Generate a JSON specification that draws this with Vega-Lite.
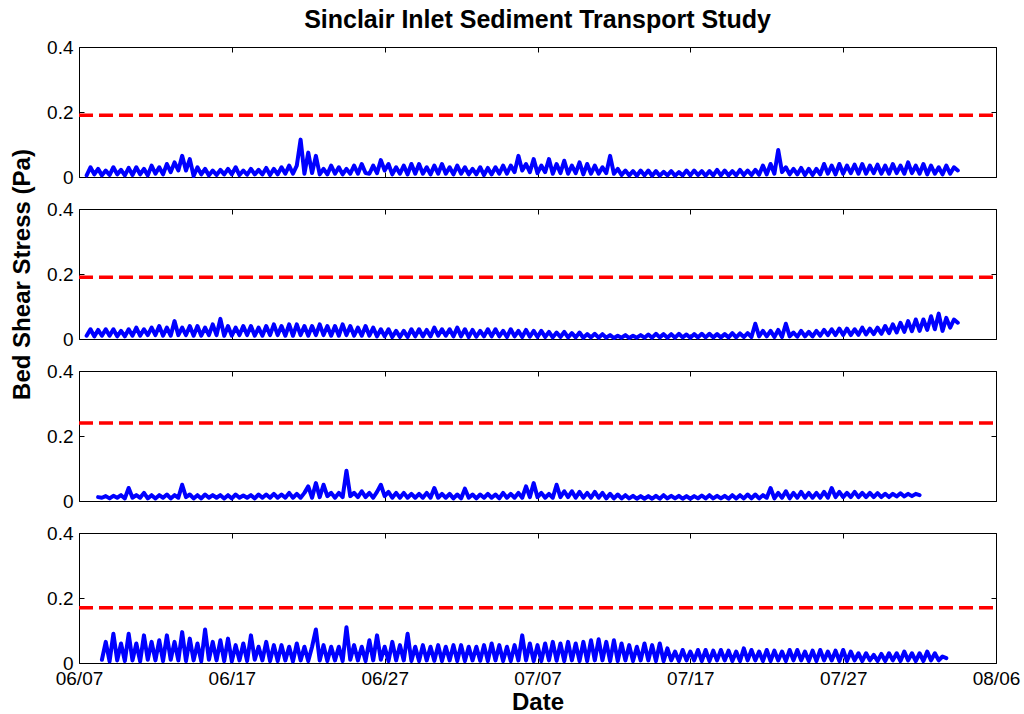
{
"$schema":"https://vega.github.io/schema/vega-lite/v6.json",
"autosize":{"type":"pad"},
"padding":{"left":9,"top":7,"right":5,"bottom":0},
"background":"#ffffff",
"title":{"text":"Sinclair Inlet Sediment Transport Study","fontSize":25,"fontWeight":"bold","font":"Liberation Sans","color":"#000000","anchor":"middle","frame":"group","offset":5},
"bounds":"flush",
"spacing":32,
"config":{
 "view":{"stroke":"#000000","strokeWidth":1},
 "axis":{"domain":false,"grid":false,"ticks":true,"tickColor":"#000000","tickSize":-5,"tickWidth":1,"labelColor":"#000000","labelFont":"Liberation Sans","labelFontSize":19,"labelPadding":11,"labelFlush":false,"titleFont":"Liberation Sans","titleFontSize":24,"titleFontWeight":"bold","titleColor":"#000000"}
},
"datasets":{"ts":[
{"t":"2007-06-07T12:00","a":0.005,"b":0.01},
{"t":"2007-06-07T18:00","a":0.03,"b":0.03},
{"t":"2007-06-08T00:00","a":0.008,"b":0.008},
{"t":"2007-06-08T06:00","a":0.025,"b":0.028,"c":0.012},
{"t":"2007-06-08T12:00","a":0.005,"b":0.01,"c":0.01,"d":0.01},
{"t":"2007-06-08T18:00","a":0.02,"b":0.03,"c":0.015,"d":0.065},
{"t":"2007-06-09T00:00","a":0.006,"b":0.01,"c":0.008,"d":0.005},
{"t":"2007-06-09T06:00","a":0.03,"b":0.03,"c":0.016,"d":0.09},
{"t":"2007-06-09T12:00","a":0.008,"b":0.008,"c":0.01,"d":0.008},
{"t":"2007-06-09T18:00","a":0.022,"b":0.025,"c":0.018,"d":0.06},
{"t":"2007-06-10T00:00","a":0.005,"b":0.008,"c":0.008,"d":0.006},
{"t":"2007-06-10T06:00","a":0.028,"b":0.03,"c":0.04,"d":0.09},
{"t":"2007-06-10T12:00","a":0.006,"b":0.01,"c":0.01,"d":0.008},
{"t":"2007-06-10T18:00","a":0.03,"b":0.035,"c":0.018,"d":0.06},
{"t":"2007-06-11T00:00","a":0.008,"b":0.01,"c":0.01,"d":0.005},
{"t":"2007-06-11T06:00","a":0.025,"b":0.03,"c":0.025,"d":0.085},
{"t":"2007-06-11T12:00","a":0.005,"b":0.012,"c":0.008,"d":0.01},
{"t":"2007-06-11T18:00","a":0.035,"b":0.035,"c":0.018,"d":0.065},
{"t":"2007-06-12T00:00","a":0.01,"b":0.012,"c":0.008,"d":0.008},
{"t":"2007-06-12T06:00","a":0.03,"b":0.04,"c":0.018,"d":0.07},
{"t":"2007-06-12T12:00","a":0.008,"b":0.01,"c":0.01,"d":0.006},
{"t":"2007-06-12T18:00","a":0.04,"b":0.035,"c":0.02,"d":0.085},
{"t":"2007-06-13T00:00","a":0.015,"b":0.01,"c":0.008,"d":0.01},
{"t":"2007-06-13T06:00","a":0.045,"b":0.055,"c":0.018,"d":0.065},
{"t":"2007-06-13T12:00","a":0.02,"b":0.012,"c":0.01,"d":0.008},
{"t":"2007-06-13T18:00","a":0.065,"b":0.035,"c":0.05,"d":0.095},
{"t":"2007-06-14T00:00","a":0.02,"b":0.012,"c":0.012,"d":0.006},
{"t":"2007-06-14T06:00","a":0.055,"b":0.04,"c":0.02,"d":0.075},
{"t":"2007-06-14T12:00","a":0.003,"b":0.01,"c":0.008,"d":0.008},
{"t":"2007-06-14T18:00","a":0.03,"b":0.04,"c":0.018,"d":0.06},
{"t":"2007-06-15T00:00","a":0.008,"b":0.01,"c":0.008,"d":0.005},
{"t":"2007-06-15T06:00","a":0.025,"b":0.035,"c":0.02,"d":0.103},
{"t":"2007-06-15T12:00","a":0.005,"b":0.012,"c":0.01,"d":0.01},
{"t":"2007-06-15T18:00","a":0.02,"b":0.045,"c":0.018,"d":0.065},
{"t":"2007-06-16T00:00","a":0.006,"b":0.012,"c":0.01,"d":0.008},
{"t":"2007-06-16T06:00","a":0.022,"b":0.062,"c":0.018,"d":0.07},
{"t":"2007-06-16T12:00","a":0.008,"b":0.01,"c":0.008,"d":0.006},
{"t":"2007-06-16T18:00","a":0.025,"b":0.04,"c":0.018,"d":0.075},
{"t":"2007-06-17T00:00","a":0.008,"b":0.01,"c":0.008,"d":0.005},
{"t":"2007-06-17T06:00","a":0.03,"b":0.035,"c":0.02,"d":0.055},
{"t":"2007-06-17T12:00","a":0.006,"b":0.012,"c":0.01,"d":0.008},
{"t":"2007-06-17T18:00","a":0.02,"b":0.04,"c":0.017,"d":0.06},
{"t":"2007-06-18T00:00","a":0.007,"b":0.012,"c":0.01,"d":0.006},
{"t":"2007-06-18T06:00","a":0.025,"b":0.04,"c":0.018,"d":0.085},
{"t":"2007-06-18T12:00","a":0.008,"b":0.01,"c":0.008,"d":0.01},
{"t":"2007-06-18T18:00","a":0.022,"b":0.035,"c":0.02,"d":0.05},
{"t":"2007-06-19T00:00","a":0.008,"b":0.01,"c":0.01,"d":0.008},
{"t":"2007-06-19T06:00","a":0.028,"b":0.04,"c":0.02,"d":0.065},
{"t":"2007-06-19T12:00","a":0.006,"b":0.012,"c":0.01,"d":0.006},
{"t":"2007-06-19T18:00","a":0.025,"b":0.045,"c":0.022,"d":0.055},
{"t":"2007-06-20T00:00","a":0.008,"b":0.012,"c":0.01,"d":0.006},
{"t":"2007-06-20T06:00","a":0.03,"b":0.04,"c":0.02,"d":0.055},
{"t":"2007-06-20T12:00","a":0.01,"b":0.01,"c":0.01,"d":0.008},
{"t":"2007-06-20T18:00","a":0.035,"b":0.045,"c":0.025,"d":0.05},
{"t":"2007-06-21T00:00","a":0.01,"b":0.01,"c":0.01,"d":0.005},
{"t":"2007-06-21T06:00","a":0.035,"b":0.045,"c":0.022,"d":0.06},
{"t":"2007-06-21T12:00","a":0.115,"b":0.012,"c":0.01,"d":0.008},
{"t":"2007-06-21T18:00","a":0.01,"b":0.04,"c":0.025,"d":0.05},
{"t":"2007-06-22T00:00","a":0.075,"b":0.01,"c":0.045,"d":0.006},
{"t":"2007-06-22T06:00","a":0.012,"b":0.04,"c":0.01,"d":0.05},
{"t":"2007-06-22T12:00","a":0.065,"b":0.012,"c":0.055,"d":0.103},
{"t":"2007-06-22T18:00","a":0.008,"b":0.045,"c":0.012,"d":0.008},
{"t":"2007-06-23T00:00","a":0.025,"b":0.012,"c":0.05,"d":0.055},
{"t":"2007-06-23T06:00","a":0.008,"b":0.04,"c":0.015,"d":0.006},
{"t":"2007-06-23T12:00","a":0.035,"b":0.01,"c":0.025,"d":0.05},
{"t":"2007-06-23T18:00","a":0.01,"b":0.04,"c":0.01,"d":0.008},
{"t":"2007-06-24T00:00","a":0.03,"b":0.01,"c":0.025,"d":0.05},
{"t":"2007-06-24T06:00","a":0.008,"b":0.045,"c":0.012,"d":0.006},
{"t":"2007-06-24T12:00","a":0.025,"b":0.012,"c":0.093,"d":0.11},
{"t":"2007-06-24T18:00","a":0.01,"b":0.04,"c":0.015,"d":0.01},
{"t":"2007-06-25T00:00","a":0.035,"b":0.01,"c":0.025,"d":0.055},
{"t":"2007-06-25T06:00","a":0.01,"b":0.035,"c":0.012,"d":0.008},
{"t":"2007-06-25T12:00","a":0.04,"b":0.01,"c":0.03,"d":0.05},
{"t":"2007-06-25T18:00","a":0.012,"b":0.04,"c":0.012,"d":0.006},
{"t":"2007-06-26T00:00","a":0.01,"b":0.01,"c":0.025,"d":0.07},
{"t":"2007-06-26T06:00","a":0.035,"b":0.035,"c":0.01,"d":0.008},
{"t":"2007-06-26T12:00","a":0.012,"b":0.008,"c":0.028,"d":0.085},
{"t":"2007-06-26T18:00","a":0.052,"b":0.03,"c":0.05,"d":0.01},
{"t":"2007-06-27T00:00","a":0.02,"b":0.008,"c":0.015,"d":0.05},
{"t":"2007-06-27T06:00","a":0.04,"b":0.03,"c":0.028,"d":0.006},
{"t":"2007-06-27T12:00","a":0.008,"b":0.006,"c":0.01,"d":0.065},
{"t":"2007-06-27T18:00","a":0.03,"b":0.025,"c":0.025,"d":0.008},
{"t":"2007-06-28T00:00","a":0.01,"b":0.006,"c":0.01,"d":0.055},
{"t":"2007-06-28T06:00","a":0.035,"b":0.025,"c":0.025,"d":0.008},
{"t":"2007-06-28T12:00","a":0.008,"b":0.006,"c":0.01,"d":0.09},
{"t":"2007-06-28T18:00","a":0.04,"b":0.03,"c":0.022,"d":0.006},
{"t":"2007-06-29T00:00","a":0.01,"b":0.008,"c":0.01,"d":0.05},
{"t":"2007-06-29T06:00","a":0.04,"b":0.03,"c":0.022,"d":0.006},
{"t":"2007-06-29T12:00","a":0.01,"b":0.008,"c":0.01,"d":0.055},
{"t":"2007-06-29T18:00","a":0.03,"b":0.028,"c":0.025,"d":0.008},
{"t":"2007-06-30T00:00","a":0.008,"b":0.008,"c":0.01,"d":0.05},
{"t":"2007-06-30T06:00","a":0.035,"b":0.035,"c":0.04,"d":0.007},
{"t":"2007-06-30T12:00","a":0.01,"b":0.01,"c":0.01,"d":0.055},
{"t":"2007-06-30T18:00","a":0.04,"b":0.03,"c":0.022,"d":0.006},
{"t":"2007-07-01T00:00","a":0.01,"b":0.01,"c":0.01,"d":0.05},
{"t":"2007-07-01T06:00","a":0.03,"b":0.03,"c":0.022,"d":0.008},
{"t":"2007-07-01T12:00","a":0.008,"b":0.008,"c":0.008,"d":0.055},
{"t":"2007-07-01T18:00","a":0.035,"b":0.035,"c":0.02,"d":0.006},
{"t":"2007-07-02T00:00","a":0.01,"b":0.008,"c":0.008,"d":0.055},
{"t":"2007-07-02T06:00","a":0.03,"b":0.03,"c":0.038,"d":0.006},
{"t":"2007-07-02T12:00","a":0.008,"b":0.006,"c":0.01,"d":0.05},
{"t":"2007-07-02T18:00","a":0.025,"b":0.028,"c":0.02,"d":0.008},
{"t":"2007-07-03T00:00","a":0.008,"b":0.007,"c":0.008,"d":0.05},
{"t":"2007-07-03T06:00","a":0.03,"b":0.025,"c":0.02,"d":0.007},
{"t":"2007-07-03T12:00","a":0.006,"b":0.008,"c":0.01,"d":0.055},
{"t":"2007-07-03T18:00","a":0.028,"b":0.03,"c":0.022,"d":0.006},
{"t":"2007-07-04T00:00","a":0.008,"b":0.008,"c":0.01,"d":0.06},
{"t":"2007-07-04T06:00","a":0.03,"b":0.03,"c":0.02,"d":0.008},
{"t":"2007-07-04T12:00","a":0.01,"b":0.008,"c":0.008,"d":0.055},
{"t":"2007-07-04T18:00","a":0.035,"b":0.025,"c":0.025,"d":0.006},
{"t":"2007-07-05T00:00","a":0.01,"b":0.006,"c":0.01,"d":0.05},
{"t":"2007-07-05T06:00","a":0.035,"b":0.03,"c":0.022,"d":0.006},
{"t":"2007-07-05T12:00","a":0.015,"b":0.008,"c":0.01,"d":0.055},
{"t":"2007-07-05T18:00","a":0.065,"b":0.025,"c":0.025,"d":0.008},
{"t":"2007-07-06T00:00","a":0.02,"b":0.006,"c":0.01,"d":0.085},
{"t":"2007-07-06T06:00","a":0.04,"b":0.028,"c":0.045,"d":0.008},
{"t":"2007-07-06T12:00","a":0.015,"b":0.007,"c":0.012,"d":0.06},
{"t":"2007-07-06T18:00","a":0.055,"b":0.025,"c":0.055,"d":0.006},
{"t":"2007-07-07T00:00","a":0.012,"b":0.006,"c":0.012,"d":0.055},
{"t":"2007-07-07T06:00","a":0.035,"b":0.025,"c":0.025,"d":0.006},
{"t":"2007-07-07T12:00","a":0.015,"b":0.006,"c":0.01,"d":0.06},
{"t":"2007-07-07T18:00","a":0.055,"b":0.022,"c":0.022,"d":0.008},
{"t":"2007-07-08T00:00","a":0.01,"b":0.005,"c":0.01,"d":0.065},
{"t":"2007-07-08T06:00","a":0.04,"b":0.02,"c":0.05,"d":0.007},
{"t":"2007-07-08T12:00","a":0.012,"b":0.006,"c":0.012,"d":0.06},
{"t":"2007-07-08T18:00","a":0.05,"b":0.022,"c":0.03,"d":0.006},
{"t":"2007-07-09T00:00","a":0.01,"b":0.005,"c":0.012,"d":0.065},
{"t":"2007-07-09T06:00","a":0.035,"b":0.018,"c":0.03,"d":0.008},
{"t":"2007-07-09T12:00","a":0.012,"b":0.005,"c":0.01,"d":0.06},
{"t":"2007-07-09T18:00","a":0.045,"b":0.02,"c":0.028,"d":0.006},
{"t":"2007-07-10T00:00","a":0.008,"b":0.004,"c":0.01,"d":0.065},
{"t":"2007-07-10T06:00","a":0.04,"b":0.015,"c":0.025,"d":0.006},
{"t":"2007-07-10T12:00","a":0.01,"b":0.005,"c":0.01,"d":0.07},
{"t":"2007-07-10T18:00","a":0.035,"b":0.016,"c":0.028,"d":0.008},
{"t":"2007-07-11T00:00","a":0.01,"b":0.004,"c":0.01,"d":0.073},
{"t":"2007-07-11T06:00","a":0.03,"b":0.015,"c":0.025,"d":0.008},
{"t":"2007-07-11T12:00","a":0.012,"b":0.004,"c":0.008,"d":0.065},
{"t":"2007-07-11T18:00","a":0.065,"b":0.012,"c":0.022,"d":0.006},
{"t":"2007-07-12T00:00","a":0.01,"b":0.003,"c":0.008,"d":0.07},
{"t":"2007-07-12T06:00","a":0.025,"b":0.01,"c":0.02,"d":0.006},
{"t":"2007-07-12T12:00","a":0.006,"b":0.004,"c":0.008,"d":0.06},
{"t":"2007-07-12T18:00","a":0.02,"b":0.012,"c":0.018,"d":0.008},
{"t":"2007-07-13T00:00","a":0.005,"b":0.003,"c":0.008,"d":0.055},
{"t":"2007-07-13T06:00","a":0.018,"b":0.01,"c":0.016,"d":0.006},
{"t":"2007-07-13T12:00","a":0.004,"b":0.004,"c":0.007,"d":0.05},
{"t":"2007-07-13T18:00","a":0.02,"b":0.012,"c":0.015,"d":0.008},
{"t":"2007-07-14T00:00","a":0.005,"b":0.004,"c":0.007,"d":0.06},
{"t":"2007-07-14T06:00","a":0.02,"b":0.014,"c":0.015,"d":0.008},
{"t":"2007-07-14T12:00","a":0.004,"b":0.004,"c":0.007,"d":0.055},
{"t":"2007-07-14T18:00","a":0.018,"b":0.016,"c":0.016,"d":0.006},
{"t":"2007-07-15T00:00","a":0.004,"b":0.005,"c":0.007,"d":0.06},
{"t":"2007-07-15T06:00","a":0.016,"b":0.015,"c":0.018,"d":0.006},
{"t":"2007-07-15T12:00","a":0.005,"b":0.004,"c":0.008,"d":0.045},
{"t":"2007-07-15T18:00","a":0.018,"b":0.015,"c":0.016,"d":0.008},
{"t":"2007-07-16T00:00","a":0.004,"b":0.004,"c":0.008,"d":0.035},
{"t":"2007-07-16T06:00","a":0.015,"b":0.016,"c":0.016,"d":0.006},
{"t":"2007-07-16T12:00","a":0.005,"b":0.005,"c":0.007,"d":0.04},
{"t":"2007-07-16T18:00","a":0.02,"b":0.014,"c":0.015,"d":0.008},
{"t":"2007-07-17T00:00","a":0.005,"b":0.004,"c":0.007,"d":0.035},
{"t":"2007-07-17T06:00","a":0.02,"b":0.015,"c":0.015,"d":0.008},
{"t":"2007-07-17T12:00","a":0.006,"b":0.005,"c":0.008,"d":0.04},
{"t":"2007-07-17T18:00","a":0.018,"b":0.016,"c":0.017,"d":0.006},
{"t":"2007-07-18T00:00","a":0.004,"b":0.005,"c":0.008,"d":0.04},
{"t":"2007-07-18T06:00","a":0.018,"b":0.016,"c":0.018,"d":0.006},
{"t":"2007-07-18T12:00","a":0.005,"b":0.005,"c":0.008,"d":0.038},
{"t":"2007-07-18T18:00","a":0.022,"b":0.015,"c":0.016,"d":0.008},
{"t":"2007-07-19T00:00","a":0.005,"b":0.005,"c":0.008,"d":0.04},
{"t":"2007-07-19T06:00","a":0.02,"b":0.015,"c":0.016,"d":0.008},
{"t":"2007-07-19T12:00","a":0.005,"b":0.005,"c":0.007,"d":0.038},
{"t":"2007-07-19T18:00","a":0.018,"b":0.018,"c":0.018,"d":0.006},
{"t":"2007-07-20T00:00","a":0.005,"b":0.005,"c":0.008,"d":0.035},
{"t":"2007-07-20T06:00","a":0.022,"b":0.017,"c":0.018,"d":0.006},
{"t":"2007-07-20T12:00","a":0.006,"b":0.006,"c":0.008,"d":0.045},
{"t":"2007-07-20T18:00","a":0.02,"b":0.018,"c":0.02,"d":0.008},
{"t":"2007-07-21T00:00","a":0.006,"b":0.006,"c":0.008,"d":0.04},
{"t":"2007-07-21T06:00","a":0.022,"b":0.047,"c":0.02,"d":0.008},
{"t":"2007-07-21T12:00","a":0.007,"b":0.008,"c":0.008,"d":0.035},
{"t":"2007-07-21T18:00","a":0.035,"b":0.025,"c":0.018,"d":0.006},
{"t":"2007-07-22T00:00","a":0.008,"b":0.008,"c":0.01,"d":0.04},
{"t":"2007-07-22T06:00","a":0.04,"b":0.025,"c":0.04,"d":0.006},
{"t":"2007-07-22T12:00","a":0.01,"b":0.006,"c":0.008,"d":0.038},
{"t":"2007-07-22T18:00","a":0.083,"b":0.028,"c":0.025,"d":0.008},
{"t":"2007-07-23T00:00","a":0.015,"b":0.006,"c":0.01,"d":0.035},
{"t":"2007-07-23T06:00","a":0.03,"b":0.047,"c":0.03,"d":0.006},
{"t":"2007-07-23T12:00","a":0.008,"b":0.008,"c":0.008,"d":0.04},
{"t":"2007-07-23T18:00","a":0.025,"b":0.02,"c":0.025,"d":0.008},
{"t":"2007-07-24T00:00","a":0.008,"b":0.007,"c":0.01,"d":0.04},
{"t":"2007-07-24T06:00","a":0.028,"b":0.025,"c":0.028,"d":0.008},
{"t":"2007-07-24T12:00","a":0.006,"b":0.008,"c":0.01,"d":0.035},
{"t":"2007-07-24T18:00","a":0.025,"b":0.022,"c":0.025,"d":0.006},
{"t":"2007-07-25T00:00","a":0.006,"b":0.008,"c":0.01,"d":0.038},
{"t":"2007-07-25T06:00","a":0.025,"b":0.025,"c":0.025,"d":0.006},
{"t":"2007-07-25T12:00","a":0.008,"b":0.01,"c":0.01,"d":0.04},
{"t":"2007-07-25T18:00","a":0.04,"b":0.028,"c":0.028,"d":0.008},
{"t":"2007-07-26T00:00","a":0.01,"b":0.012,"c":0.01,"d":0.035},
{"t":"2007-07-26T06:00","a":0.035,"b":0.03,"c":0.04,"d":0.008},
{"t":"2007-07-26T12:00","a":0.008,"b":0.012,"c":0.012,"d":0.038},
{"t":"2007-07-26T18:00","a":0.04,"b":0.032,"c":0.028,"d":0.006},
{"t":"2007-07-27T00:00","a":0.01,"b":0.012,"c":0.012,"d":0.04},
{"t":"2007-07-27T06:00","a":0.035,"b":0.032,"c":0.025,"d":0.006},
{"t":"2007-07-27T12:00","a":0.012,"b":0.012,"c":0.012,"d":0.035},
{"t":"2007-07-27T18:00","a":0.038,"b":0.03,"c":0.028,"d":0.008},
{"t":"2007-07-28T00:00","a":0.01,"b":0.013,"c":0.012,"d":0.03},
{"t":"2007-07-28T06:00","a":0.04,"b":0.035,"c":0.025,"d":0.006},
{"t":"2007-07-28T12:00","a":0.01,"b":0.014,"c":0.012,"d":0.03},
{"t":"2007-07-28T18:00","a":0.035,"b":0.032,"c":0.025,"d":0.008},
{"t":"2007-07-29T00:00","a":0.012,"b":0.015,"c":0.012,"d":0.025},
{"t":"2007-07-29T06:00","a":0.038,"b":0.035,"c":0.024,"d":0.006},
{"t":"2007-07-29T12:00","a":0.01,"b":0.016,"c":0.012,"d":0.028},
{"t":"2007-07-29T18:00","a":0.035,"b":0.04,"c":0.022,"d":0.006},
{"t":"2007-07-30T00:00","a":0.01,"b":0.018,"c":0.012,"d":0.03},
{"t":"2007-07-30T06:00","a":0.04,"b":0.045,"c":0.022,"d":0.008},
{"t":"2007-07-30T12:00","a":0.012,"b":0.02,"c":0.014,"d":0.03},
{"t":"2007-07-30T18:00","a":0.035,"b":0.05,"c":0.024,"d":0.006},
{"t":"2007-07-31T00:00","a":0.01,"b":0.022,"c":0.014,"d":0.035},
{"t":"2007-07-31T06:00","a":0.045,"b":0.055,"c":0.022,"d":0.008},
{"t":"2007-07-31T12:00","a":0.012,"b":0.024,"c":0.015,"d":0.03},
{"t":"2007-07-31T18:00","a":0.035,"b":0.06,"c":0.022,"d":0.006},
{"t":"2007-08-01T00:00","a":0.01,"b":0.025,"c":0.018,"d":0.03},
{"t":"2007-08-01T06:00","a":0.04,"b":0.06,"d":0.006},
{"t":"2007-08-01T12:00","a":0.008,"b":0.028,"d":0.035},
{"t":"2007-08-01T18:00","a":0.035,"b":0.07,"d":0.008},
{"t":"2007-08-02T00:00","a":0.01,"b":0.03,"d":0.03},
{"t":"2007-08-02T06:00","a":0.03,"b":0.078,"d":0.008},
{"t":"2007-08-02T12:00","a":0.008,"b":0.025,"d":0.02},
{"t":"2007-08-02T18:00","a":0.035,"b":0.065,"d":0.015},
{"t":"2007-08-03T00:00","a":0.01,"b":0.035},
{"t":"2007-08-03T06:00","a":0.03,"b":0.06},
{"t":"2007-08-03T12:00","a":0.02,"b":0.05}
]},
"vconcat":[
{"width":917,"height":130,
 "layer":[
  {"data":{"name":"ts"},"transform":[{"filter":"isValid(datum.a)"}],
   "mark":{"type":"line","color":"#0000ff","strokeWidth":4,"strokeJoin":"round","strokeCap":"round"},
   "encoding":{
    "x":{"field":"t","type":"temporal","scale":{"domain":[{"year":2007,"month":6,"date":7},{"year":2007,"month":8,"date":6}]},"axis":{"orient":"bottom","values":[{"year":2007,"month":6,"date":7},{"year":2007,"month":6,"date":17},{"year":2007,"month":6,"date":27},{"year":2007,"month":7,"date":7},{"year":2007,"month":7,"date":17},{"year":2007,"month":7,"date":27},{"year":2007,"month":8,"date":6}],"labels":false,"title":null}},
    "y":{"field":"a","type":"quantitative","scale":{"domain":[0,0.4],"nice":false},"axis":{"orient":"left","values":[0,0.2,0.4],"format":"~g","title":null}}
   }},
  {"data":{"values":[{"s":"2007-06-07T00:00","e":"2007-08-06T00:00","v":0.19}]},
   "mark":{"type":"rule","color":"#ff0000","strokeWidth":3.5,"strokeDash":[14,6]},
   "encoding":{
    "x":{"field":"s","type":"temporal","axis":{"orient":"top","values":[{"year":2007,"month":6,"date":7},{"year":2007,"month":6,"date":17},{"year":2007,"month":6,"date":27},{"year":2007,"month":7,"date":7},{"year":2007,"month":7,"date":17},{"year":2007,"month":7,"date":27},{"year":2007,"month":8,"date":6}],"labels":false,"title":null}},
    "x2":{"field":"e"},
    "y":{"field":"v","type":"quantitative","axis":{"orient":"right","values":[0,0.2,0.4],"labels":false,"title":null}}
   }}
 ],
 "resolve":{"axis":{"x":"independent","y":"independent"}}
},
{"width":917,"height":130,
 "layer":[
  {"data":{"name":"ts"},"transform":[{"filter":"isValid(datum.b)"}],
   "mark":{"type":"line","color":"#0000ff","strokeWidth":4,"strokeJoin":"round","strokeCap":"round"},
   "encoding":{
    "x":{"field":"t","type":"temporal","scale":{"domain":[{"year":2007,"month":6,"date":7},{"year":2007,"month":8,"date":6}]},"axis":{"orient":"bottom","values":[{"year":2007,"month":6,"date":7},{"year":2007,"month":6,"date":17},{"year":2007,"month":6,"date":27},{"year":2007,"month":7,"date":7},{"year":2007,"month":7,"date":17},{"year":2007,"month":7,"date":27},{"year":2007,"month":8,"date":6}],"labels":false,"title":null}},
    "y":{"field":"b","type":"quantitative","scale":{"domain":[0,0.4],"nice":false},"axis":{"orient":"left","values":[0,0.2,0.4],"format":"~g","title":"Bed Shear Stress (Pa)","titleX":-50,"titleBaseline":"alphabetic"}}
   }},
  {"data":{"values":[{"s":"2007-06-07T00:00","e":"2007-08-06T00:00","v":0.19}]},
   "mark":{"type":"rule","color":"#ff0000","strokeWidth":3.5,"strokeDash":[14,6]},
   "encoding":{
    "x":{"field":"s","type":"temporal","axis":{"orient":"top","values":[{"year":2007,"month":6,"date":7},{"year":2007,"month":6,"date":17},{"year":2007,"month":6,"date":27},{"year":2007,"month":7,"date":7},{"year":2007,"month":7,"date":17},{"year":2007,"month":7,"date":27},{"year":2007,"month":8,"date":6}],"labels":false,"title":null}},
    "x2":{"field":"e"},
    "y":{"field":"v","type":"quantitative","axis":{"orient":"right","values":[0,0.2,0.4],"labels":false,"title":null}}
   }}
 ],
 "resolve":{"axis":{"x":"independent","y":"independent"}}
},
{"width":917,"height":130,
 "layer":[
  {"data":{"name":"ts"},"transform":[{"filter":"isValid(datum.c)"}],
   "mark":{"type":"line","color":"#0000ff","strokeWidth":4,"strokeJoin":"round","strokeCap":"round"},
   "encoding":{
    "x":{"field":"t","type":"temporal","scale":{"domain":[{"year":2007,"month":6,"date":7},{"year":2007,"month":8,"date":6}]},"axis":{"orient":"bottom","values":[{"year":2007,"month":6,"date":7},{"year":2007,"month":6,"date":17},{"year":2007,"month":6,"date":27},{"year":2007,"month":7,"date":7},{"year":2007,"month":7,"date":17},{"year":2007,"month":7,"date":27},{"year":2007,"month":8,"date":6}],"labels":false,"title":null}},
    "y":{"field":"c","type":"quantitative","scale":{"domain":[0,0.4],"nice":false},"axis":{"orient":"left","values":[0,0.2,0.4],"format":"~g","title":null}}
   }},
  {"data":{"values":[{"s":"2007-06-07T00:00","e":"2007-08-06T00:00","v":0.24}]},
   "mark":{"type":"rule","color":"#ff0000","strokeWidth":3.5,"strokeDash":[14,6]},
   "encoding":{
    "x":{"field":"s","type":"temporal","axis":{"orient":"top","values":[{"year":2007,"month":6,"date":7},{"year":2007,"month":6,"date":17},{"year":2007,"month":6,"date":27},{"year":2007,"month":7,"date":7},{"year":2007,"month":7,"date":17},{"year":2007,"month":7,"date":27},{"year":2007,"month":8,"date":6}],"labels":false,"title":null}},
    "x2":{"field":"e"},
    "y":{"field":"v","type":"quantitative","axis":{"orient":"right","values":[0,0.2,0.4],"labels":false,"title":null}}
   }}
 ],
 "resolve":{"axis":{"x":"independent","y":"independent"}}
},
{"width":917,"height":130,
 "layer":[
  {"data":{"name":"ts"},"transform":[{"filter":"isValid(datum.d)"}],
   "mark":{"type":"line","color":"#0000ff","strokeWidth":4,"strokeJoin":"round","strokeCap":"round"},
   "encoding":{
    "x":{"field":"t","type":"temporal","scale":{"domain":[{"year":2007,"month":6,"date":7},{"year":2007,"month":8,"date":6}]},"axis":{"orient":"bottom","values":[{"year":2007,"month":6,"date":7},{"year":2007,"month":6,"date":17},{"year":2007,"month":6,"date":27},{"year":2007,"month":7,"date":7},{"year":2007,"month":7,"date":17},{"year":2007,"month":7,"date":27},{"year":2007,"month":8,"date":6}],"format":"%m/%d","labelPadding":11,"title":"Date","titlePadding":2}},
    "y":{"field":"d","type":"quantitative","scale":{"domain":[0,0.4],"nice":false},"axis":{"orient":"left","values":[0,0.2,0.4],"format":"~g","title":null}}
   }},
  {"data":{"values":[{"s":"2007-06-07T00:00","e":"2007-08-06T00:00","v":0.17}]},
   "mark":{"type":"rule","color":"#ff0000","strokeWidth":3.5,"strokeDash":[14,6]},
   "encoding":{
    "x":{"field":"s","type":"temporal","axis":{"orient":"top","values":[{"year":2007,"month":6,"date":7},{"year":2007,"month":6,"date":17},{"year":2007,"month":6,"date":27},{"year":2007,"month":7,"date":7},{"year":2007,"month":7,"date":17},{"year":2007,"month":7,"date":27},{"year":2007,"month":8,"date":6}],"labels":false,"title":null}},
    "x2":{"field":"e"},
    "y":{"field":"v","type":"quantitative","axis":{"orient":"right","values":[0,0.2,0.4],"labels":false,"title":null}}
   }}
 ],
 "resolve":{"axis":{"x":"independent","y":"independent"}}
}
]
}
